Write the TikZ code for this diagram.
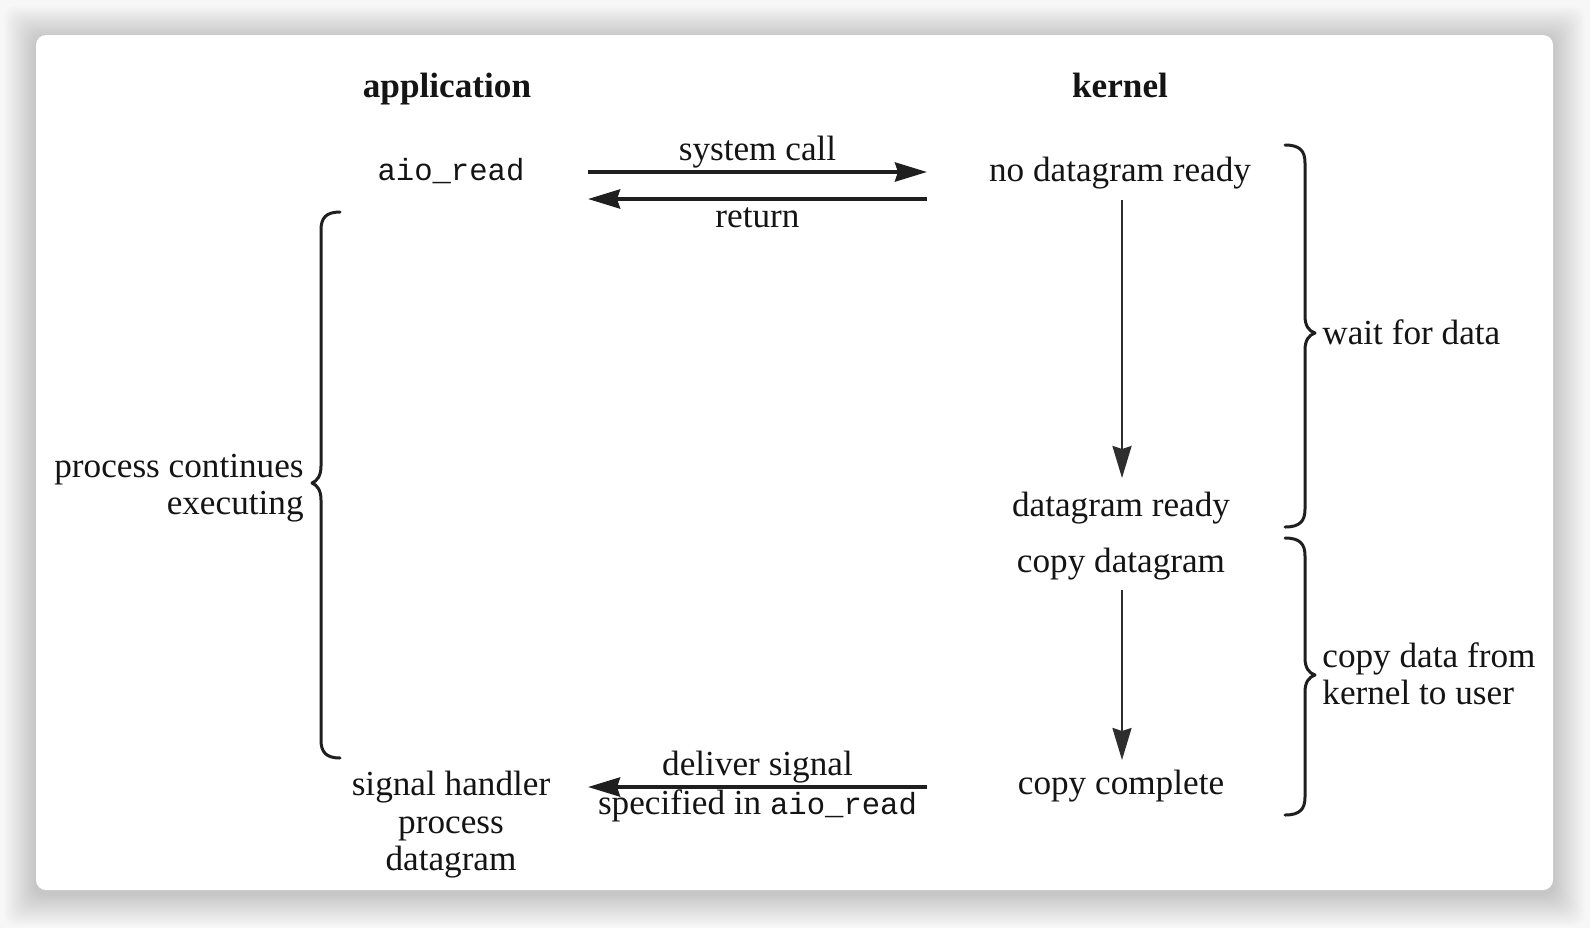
\documentclass[tikz,border=0pt]{standalone}
\usepackage{fontspec}
\setmainfont{Liberation Serif}
\setmonofont{Liberation Mono}
\usetikzlibrary{arrows.meta}
\begin{document}
\begin{tikzpicture}[x=0.5pt,y=-0.5pt,
  txt/.style={font=\fontsize{17.6}{18.75}\selectfont, text=black!92, inner sep=0pt, align=center, anchor=base},
  hd/.style={txt, font=\fontsize{17.6}{18.75}\selectfont\bfseries},
  mono/.style={txt, font=\fontsize{15.3}{18.75}\selectfont\ttfamily},
  tip/.style={-{Stealth[length=16pt,width=9.5pt,inset=1.5pt]}},
  harrow/.style={draw=black!88, line width=2pt, tip},
  varrow/.style={draw=black!82, line width=1.2pt, tip},
  bracepath/.style={draw=black!88, line width=1.5pt, line cap=round, line join=round}]
% background and card
\useasboundingbox (0,0) rectangle (1590,928);
\fill[white!97!black] (0,0) rectangle (1590,928);
\foreach \i in {1,...,16}{
  \fill[black, opacity=0.012, rounded corners=6pt] (36-2*\i,38-2*\i) rectangle (1553+2*\i,894+2*\i);
}
\fill[white, rounded corners=5pt] (36,35) rectangle (1553,890);
% headings
\node[hd] (app) at (447,97) {application};
\node[hd] (ker) at (1120,97) {kernel};
% application side
\node[mono] (aio) at (451,180) {aio\_read};
\node[txt, anchor=center] (sh) at (451,825) {signal handler\\process\\datagram};
\node[txt, anchor=east, align=right] (pce) at (304,488) {process continues\\executing};
% kernel side
\node[txt] (ndr) at (1120,181) {no datagram ready};
\node[txt] (dr) at (1121,516) {datagram ready};
\node[txt] (cd) at (1121,572) {copy datagram};
\node[txt] (cc) at (1121,794) {copy complete};
\node[txt, anchor=west, align=left] (wfd) at (1322,332) {wait for data};
\node[txt, anchor=west, align=left] (cdk) at (1322,674) {copy data from\\kernel to user};
% horizontal arrows
\draw[harrow] ([shift={(137,-8)}]aio.base) -- ([shift={(-193,-9)}]ndr.base)
  node[txt, midway, yshift=6pt] (sc) {system call};
\draw[harrow] ([shift={(-193,18)}]ndr.base) -- ([shift={(137,19)}]aio.base)
  node[txt, midway, yshift=-14pt] (ret) {return};
\draw[harrow] ([shift={(-194,-7)}]cc.base) -- ([shift={(137,-38)}]sh.center)
  node[txt, midway, yshift=6pt] (ds) {deliver signal}
  node[txt, midway, yshift=-13.5pt] (sp) {specified in {\fontsize{15.3}{18.75}\selectfont\ttfamily aio\_read}};
% vertical arrows
\draw[varrow] ([shift={(2,19)}]ndr.base) -- ([shift={(1,-38)}]dr.base);
\draw[varrow] ([shift={(1,18)}]cd.base) -- ([shift={(1,-34)}]cc.base);
% braces
\draw[bracepath] (340,212) .. controls (326,212) and (321,218) .. (321,230)
  -- (321,466) .. controls (321,476) and (317,481) .. (312,483)
  .. controls (317,485) and (321,490) .. (321,500)
  -- (321,740) .. controls (321,752) and (326,758) .. (340,758);
\draw[bracepath] (1285,145) .. controls (1300,145) and (1305,151) .. (1305,163)
  -- (1305,316) .. controls (1305,326) and (1309,331) .. (1315,333)
  .. controls (1309,335) and (1305,340) .. (1305,350)
  -- (1305,509) .. controls (1305,521) and (1300,527) .. (1285,527);
\draw[bracepath] (1285,538) .. controls (1300,538) and (1305,544) .. (1305,556)
  -- (1305,658) .. controls (1305,668) and (1309,673) .. (1315,675)
  .. controls (1309,677) and (1305,682) .. (1305,692)
  -- (1305,797) .. controls (1305,809) and (1300,815) .. (1285,815);
\end{tikzpicture}
\end{document}
